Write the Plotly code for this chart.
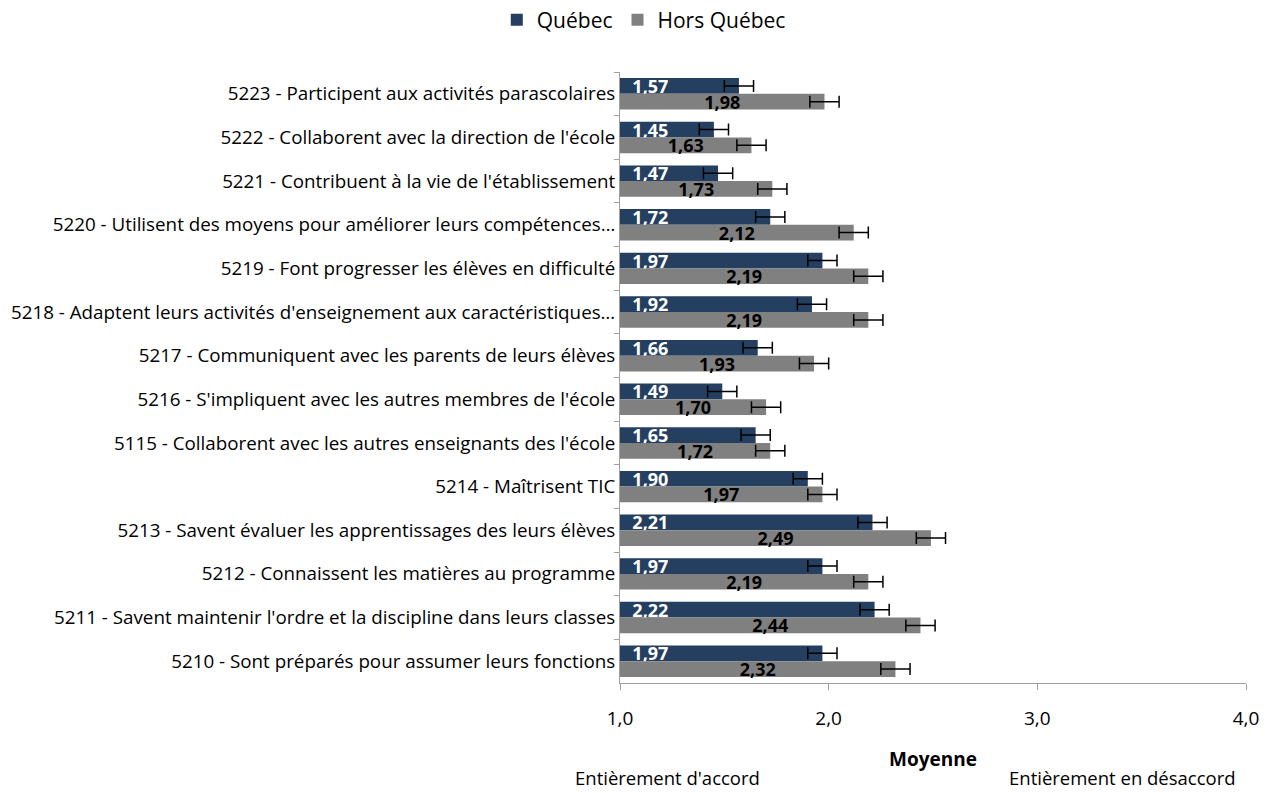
import plotly.graph_objects as go

# Items, listed top to bottom
items = [
    "5223 - Participent aux activités parascolaires",
    "5222 - Collaborent avec la direction de l'école",
    "5221 - Contribuent à la vie de l'établissement",
    "5220 - Utilisent des moyens pour améliorer leurs compétences…",
    "5219 - Font progresser les élèves en difficulté",
    "5218 - Adaptent leurs activités d'enseignement aux caractéristiques…",
    "5217 - Communiquent avec les parents de leurs élèves",
    "5216 - S'impliquent avec les autres membres de l'école",
    "5115 - Collaborent avec les autres enseignants des l'école",
    "5214 - Maîtrisent TIC",
    "5213 - Savent évaluer les apprentissages des leurs élèves",
    "5212 - Connaissent les matières au programme",
    "5211 - Savent maintenir l'ordre et la discipline dans leurs classes",
    "5210 - Sont préparés pour assumer leurs fonctions",
]

quebec = [1.57, 1.45, 1.47, 1.72, 1.97, 1.92, 1.66, 1.49, 1.65, 1.90, 2.21, 1.97, 2.22, 1.97]
hors_quebec = [1.98, 1.63, 1.73, 2.12, 2.19, 2.19, 1.93, 1.70, 1.72, 1.97, 2.49, 2.19, 2.44, 2.32]

quebec_err = [0.07] * len(items)
hors_quebec_err = [0.07] * len(items)

scale_min = 1.0
x_ticks = [1.0, 2.0, 3.0, 4.0]

FONT = "Open Sans"
NAVY = "#243F60"
GREY = "#808080"


def fmt(v, pad=""):
    return pad + f"{v:.2f}".replace(".", ",")


def bar_trace(name, values, errors, color, text_color, anchor, pad):
    return go.Bar(
        name=name,
        y=items,
        x=[v - scale_min for v in values],
        base=[scale_min] * len(values),
        orientation="h",
        marker=dict(color=color, line=dict(width=0)),
        text=[fmt(v, pad) for v in values],
        textposition="inside",
        insidetextanchor=anchor,
        textfont=dict(family=FONT, size=18, color=text_color, weight="bold"),
        error_x=dict(type="data", array=errors, color="black", thickness=1.5, width=6),
        cliponaxis=False,
        hoverinfo="skip",
    )


fig = go.Figure()
fig.add_trace(bar_trace("Québec", quebec, quebec_err, NAVY, "white", "start", "\u00a0\u00a0"))
fig.add_trace(bar_trace("Hors Québec", hors_quebec, hors_quebec_err, GREY, "black", "middle", ""))

fig.update_layout(
    width=1278,
    height=793,
    barmode="group",
    bargap=0.28,
    bargroupgap=0,
    separators=", ",
    plot_bgcolor="white",
    paper_bgcolor="white",
    font=dict(family=FONT, size=18, color="black"),
    margin=dict(l=620, r=32, t=72, b=110, autoexpand=False),
    uniformtext=dict(minsize=18, mode="show"),
    showlegend=True,
    legend=dict(
        orientation="h",
        x=0.038,
        xanchor="center",
        y=1.085,
        yanchor="middle",
        font=dict(family=FONT, size=21, color="black"),
        itemwidth=30,
        traceorder="normal",
    ),
    xaxis=dict(
        range=[1.0, 4.0],
        tickvals=x_ticks,
        tickformat=".1f",
        showgrid=False,
        zeroline=False,
        showline=True,
        linecolor="#A0A0A0",
        linewidth=1,
        ticks="outside",
        ticklen=6,
        tickcolor="#A0A0A0",
        tickfont=dict(family=FONT, size=19, color="black"),
        ticklabelstandoff=12,
    ),
    yaxis=dict(
        autorange="reversed",
        showgrid=False,
        showline=True,
        linecolor="#A0A0A0",
        linewidth=1,
        ticks="outside",
        ticklen=5,
        tickcolor="#A0A0A0",
        tickson="boundaries",
        tickfont=dict(family=FONT, size=18.8, color="black"),
    ),
    annotations=[
        dict(text="<b>Moyenne</b>", x=0.5, y=-0.124, xref="paper", yref="paper",
             xanchor="center", yanchor="middle",
             showarrow=False, font=dict(family=FONT, size=19, color="black")),
        dict(text="Entièrement d'accord", x=0.076, y=-0.155, xref="paper", yref="paper",
             xanchor="center", yanchor="middle",
             showarrow=False, font=dict(family=FONT, size=18.5, color="black")),
        dict(text="Entièrement en désaccord", x=0.803, y=-0.155, xref="paper", yref="paper",
             xanchor="center", yanchor="middle",
             showarrow=False, font=dict(family=FONT, size=18.5, color="black")),
    ],
)

fig.write_html("out.html")
